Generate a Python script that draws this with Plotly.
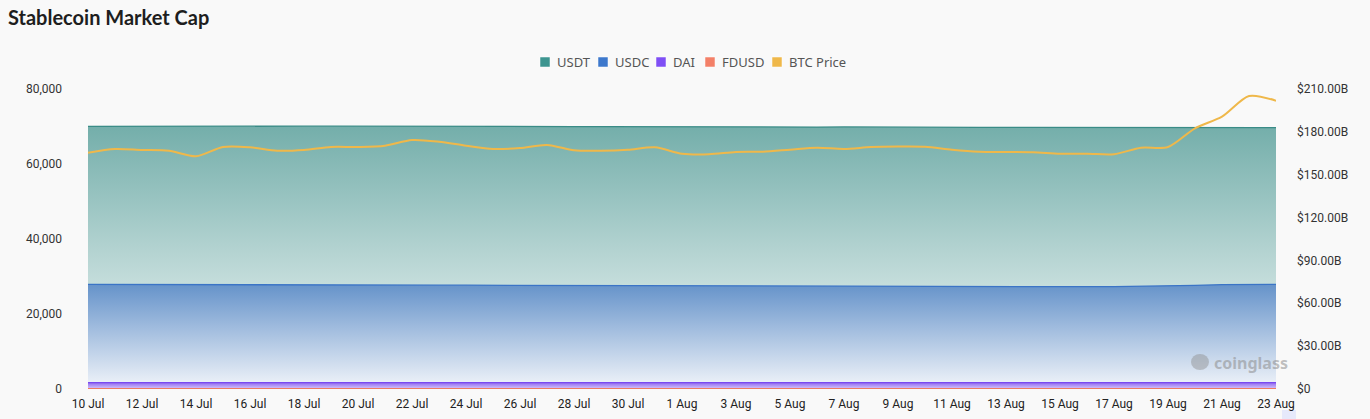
import pandas as pd
import plotly.graph_objects as go

dates = pd.date_range("2023-07-10", "2023-08-23", freq="D")

usdt = [70050, 70030, 70010, 70060, 70090, 70080, 70060, 70070, 70080, 70090,
        70100, 70110, 70100, 70080, 70060, 70040, 70020, 70000, 69980, 69950,
        69920, 69880, 69860, 69850, 69840, 69820, 69800, 69860, 69880, 69820,
        69790, 69780, 69770, 69760, 69750, 69740, 69730, 69720, 69710, 69700,
        69700, 69690, 69690, 69700, 69700]

usdc = [27900, 27900, 27880, 27820, 27800, 27800, 27800, 27800, 27790, 27780,
        27780, 27770, 27750, 27700, 27680, 27660, 27650, 27600, 27500, 27480,
        27470, 27470, 27460, 27450, 27430, 27400, 27330, 27320, 27310, 27300,
        27300, 27300, 27300, 27290, 27290, 27280, 27280, 27280, 27290, 27350,
        27450, 27650, 27820, 27900, 27920]

dai = [1720, 1720, 1718, 1716, 1715, 1714, 1713, 1712, 1711, 1710,
       1709, 1708, 1707, 1706, 1705, 1704, 1703, 1702, 1701, 1700,
       1699, 1698, 1697, 1696, 1695, 1694, 1693, 1692, 1691, 1690,
       1689, 1688, 1687, 1686, 1685, 1684, 1683, 1682, 1681, 1680,
       1680, 1680, 1680, 1680, 1680]

fdusd = [120] * 45

btc = [165.4, 168.0, 167.3, 166.8, 162.9, 169.4, 169.2, 166.8, 167.3, 169.4,
       169.4, 170.3, 174.3, 173.1, 170.3, 168.0, 168.7, 170.8, 167.1, 166.8,
       167.5, 169.2, 164.7, 164.3, 165.9, 166.1, 167.5, 168.9, 168.0, 169.4,
       169.75, 169.6, 167.5, 166.1, 165.9, 165.7, 164.7, 164.7, 164.3, 168.9,
       169.4, 182.5, 190.6, 205.1, 201.8]

left_ticks = [0, 20000, 40000, 60000, 80000]
right_ticks = [0, 30, 60, 90, 120, 150, 180, 210]
right_text = ["$0"] + [f"${v:.2f}B" for v in right_ticks[1:]]

names = ["USDT", "USDC", "DAI", "FDUSD", "BTC Price"]
colors = ["#3d9590", "#3d78cc", "#7f4ff5", "#f38068", "#efb84a"]

W, H = 1370, 419
L, R, T, B = 88, 94, 89, 30
PW, PH = W - L - R, H - T - B


def px_x(px):
    return (px - L) / PW


def px_y(py):
    return (H - B - py) / PH


fig = go.Figure()

area_specs = [
    (usdt, 72000, "rgba(112,172,168,1)", "rgba(250,252,252,1)", "#3a8c87"),
    (usdc, 29000, "rgba(96,143,200,1)", "rgba(242,245,250,1)", "#3b74c6"),
    (dai, 1800, "rgba(140,100,240,1)", "rgba(215,200,250,1)", "#7a48f0"),
    (fdusd, 150, "rgba(243,128,104,1)", "rgba(243,128,104,1)", "#f07a62"),
]
for (vals, top_v, topc, botc, linec), nm in zip(area_specs, names[:4]):
    fig.add_trace(go.Scatter(
        x=dates, y=vals, name=nm, mode="lines",
        line=dict(color=linec, width=1.3),
        fill="tozeroy",
        fillgradient=dict(type="vertical", start=0, stop=top_v,
                          colorscale=[[0, botc], [1, topc]]),
        showlegend=False, yaxis="y"))

fig.add_trace(go.Scatter(
    x=dates, y=btc, name="BTC Price", mode="lines",
    line=dict(color="#efb84a", width=2, shape="spline", smoothing=0.8),
    showlegend=False, yaxis="y2"))

fig.update_layout(
    width=W, height=H,
    margin=dict(l=L, r=R, t=T, b=B),
    paper_bgcolor="#f9f9f9", plot_bgcolor="#f9f9f9",
    font=dict(family="Roboto, sans-serif", size=12, color="#333333"),
    title=dict(text="<b>Stablecoin Market Cap</b>", x=8 / W, xanchor="left",
               y=1 - 18 / H, yanchor="middle",
               font=dict(family="Lato, sans-serif", size=20, color="#1e1e1e")),
    xaxis=dict(type="date", range=[dates[0], dates[-1]],
               tick0=dates[0], dtick=2 * 86400000, tickformat="%-d %b",
               showgrid=False, zeroline=False, showline=False, ticks="",
               automargin=False,
               ticklabelstandoff=6, tickfont=dict(size=12, color="#222222")),
    yaxis=dict(range=[0, 80000], tickvals=left_ticks, tickformat=",",
               showgrid=False, zeroline=False, ticks="", automargin=False,
               ticklabelstandoff=25, tickfont=dict(size=12, color="#333333")),
    yaxis2=dict(overlaying="y", side="right", range=[0, 210],
                tickvals=right_ticks, ticktext=right_text, automargin=False,
                showgrid=True, gridcolor="#e6e6e6", griddash="dash", gridwidth=1,
                zeroline=False, ticks="", ticklabelstandoff=20,
                tickfont=dict(size=12, color="#333333")),
    showlegend=False,
)

# custom legend: square swatch + label (pixel layout of the reference)
legend_sq_left = [540, 598, 656, 705, 772]
for nm, c, sx in zip(names, colors, legend_sq_left):
    fig.add_shape(type="rect", xref="paper", yref="paper",
                  x0=px_x(sx), x1=px_x(sx + 10), y0=px_y(67), y1=px_y(57),
                  fillcolor=c, line=dict(color="rgba(255,255,255,0.5)", width=1))
    fig.add_annotation(text=nm, xref="paper", yref="paper",
                       x=px_x(sx + 15), y=px_y(62), xanchor="left", yanchor="middle",
                       showarrow=False,
                       font=dict(family="Noto Sans, sans-serif", size=13, color="#555555"))

# watermark
fig.add_annotation(text="<b>coinglass</b>", xref="paper", yref="paper",
                   x=px_x(1290), y=px_y(363), xanchor="right", yanchor="middle",
                   showarrow=False,
                   font=dict(family="Noto Sans, sans-serif", size=16,
                             color="rgba(140,140,140,0.55)"))
fig.add_shape(type="circle", xref="paper", yref="paper",
              x0=px_x(1191), x1=px_x(1209), y0=px_y(370), y1=px_y(354),
              fillcolor="rgba(140,140,140,0.45)", line=dict(width=0))

fig.add_shape(type="rect", xref="paper", yref="paper",
              x0=px_x(1282), x1=px_x(1296), y0=px_y(419), y1=px_y(410),
              fillcolor="#e6e9fb", line=dict(width=0), layer="below")

fig.write_html("out.html", config={"displayModeBar": False},
               post_script="document.body.style.margin='0';")
